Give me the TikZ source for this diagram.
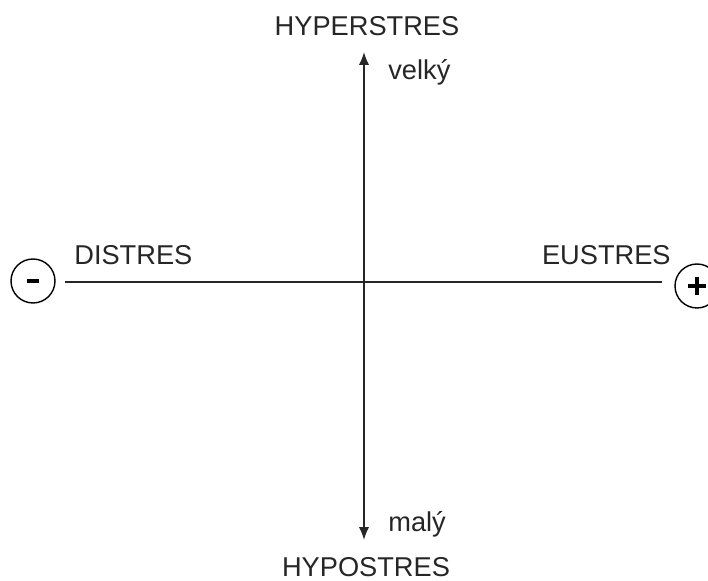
\documentclass[tikz,border=0pt]{standalone}
\usepackage{fontspec}
\setmainfont{Liberation Sans}
\usetikzlibrary{arrows.meta, calc}

\tikzset{
  lbl/.style={font=\fontsize{15.5}{18}\selectfont, inner sep=0pt, text=black!85},
  sgn/.style={draw, circle, line width=0.8pt, minimum size=0.88cm, inner sep=0pt},
  axis/.style={line width=1pt, draw=black!85}
}

\begin{document}
\begin{tikzpicture}[x=0.02cm, y=-0.02cm]
  \useasboundingbox (0,0) rectangle (708,581);
  % axis end points
  \coordinate (top) at (364,52);
  \coordinate (bot) at (364,540);
  \coordinate (lft) at (65,282);
  \coordinate (rgt) at (662,282);
  \draw[axis, {Latex[length=2.6mm,width=2.1mm]}-{Latex[length=2.6mm,width=2.1mm]}] (bot) -- (top);
  \draw[axis] (lft) -- (rgt);
  % signs
  \node[sgn] (minus) at (33,281) {};
  \draw[line width=2.2pt] ($(minus.center)+(-6,0)$) -- ($(minus.center)+(6,0)$);
  \node[sgn] (plus) at (697,286) {};
  \draw[line width=2.2pt] ($(plus.center)+(-9,0)$) -- ($(plus.center)+(9,0)$)
    ($(plus.center)+(0,-9)$) -- ($(plus.center)+(0,9)$);
  % labels
  \node[lbl, anchor=base] (hyper) at (367,36) {HYPERSTRES};
  \node[lbl, anchor=base] (hypo) at (366,577) {HYPOSTRES};
  \node[lbl, anchor=base west] (velky) at (388,80) {velký};
  \node[lbl, anchor=base west] (maly) at (388,532) {malý};
  \node[lbl, anchor=base west] (distres) at (74,265) {DISTRES};
  \node[lbl, anchor=base east] (eustres) at (671,265) {EUSTRES};
\end{tikzpicture}
\end{document}
